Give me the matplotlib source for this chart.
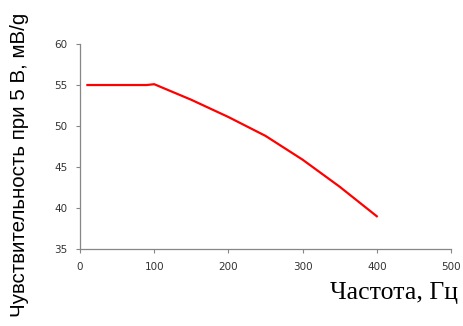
import matplotlib
matplotlib.use("Agg")
import matplotlib.pyplot as plt

# frequency response
freq = [10, 50, 90, 100, 150, 200, 250, 300, 350, 400]
sens = [55.0, 55.0, 55.0, 55.1, 53.2, 51.1, 48.8, 45.9, 42.6, 39.0]

x_ticks = [0, 100, 200, 300, 400, 500]
y_ticks = [35, 40, 45, 50, 55, 60]

fig = plt.figure(figsize=(4.63, 3.26), dpi=100)
ax = fig.add_axes([0.1728, 0.236, 0.8012, 0.629])

ax.plot(freq, sens, color="#ff0000", linewidth=1.6)

ax.set_xlim(0, 500)
ax.set_ylim(35, 60)
ax.set_xticks(x_ticks)
ax.set_yticks(y_ticks)

for side in ["top", "right"]:
    ax.spines[side].set_visible(False)
for side in ["left", "bottom"]:
    ax.spines[side].set_color("#868686")
    ax.spines[side].set_linewidth(0.9)

ax.tick_params(axis="both", direction="out", length=3, width=0.8, color="#868686",
               labelsize=7.5, labelcolor="#333333", pad=6)

fig.text(0.043, 0.495, "Чувствительность при 5 В, мВ/g", rotation=90,
         ha="center", va="center", family="Liberation Sans", fontsize=14.8)
fig.text(0.99, 0.1, "Частота, Гц", ha="right", va="center",
         family="Liberation Serif", fontsize=18.5)

fig.savefig("out.png", dpi=100)
